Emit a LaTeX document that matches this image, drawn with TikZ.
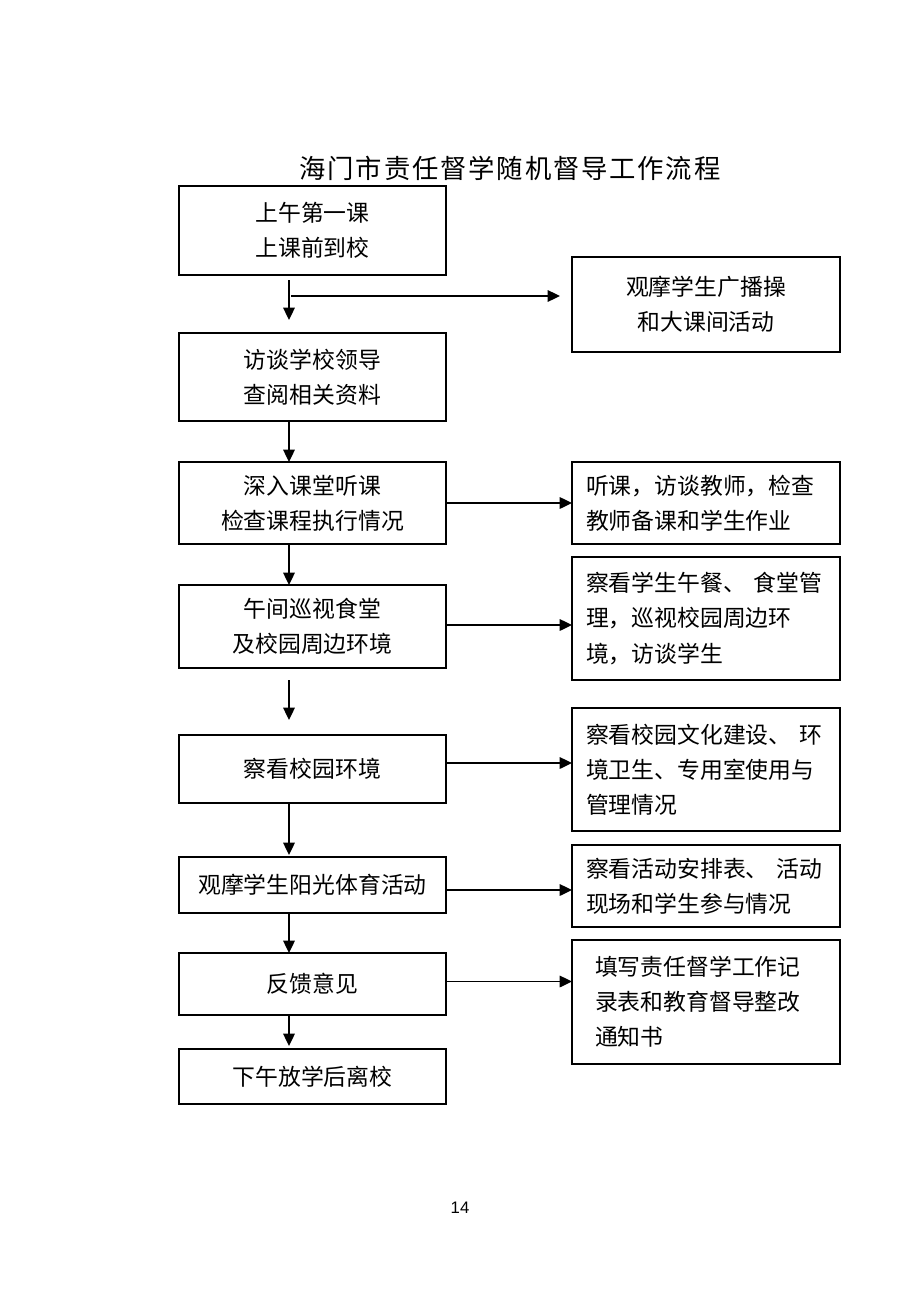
\documentclass[tikz,border=0pt]{standalone}
\usepackage{fontspec}
\usetikzlibrary{arrows.meta}
\newfontfamily\cjkfont{Noto Sans CJK SC}
\newfontfamily\ttlfont[LetterSpace=7]{Noto Sans CJK SC}
\setmainfont{Liberation Sans}
\tikzset{
  every node/.style={inner sep=0pt, outer sep=0pt},
  lbox/.style={draw, line width=0.9pt, minimum width=5.34cm, align=center,
    font=\cjkfont\fontsize{13}{20}\selectfont},
  rbox/.style={draw, line width=0.9pt, minimum width=5.36cm, align=left,
    text width=4.8cm, font=\cjkfont\fontsize{13}{20}\selectfont},
  arr/.style={line width=1.1pt, -{Triangle[length=7pt,width=6.5pt]}},
}
\begin{document}
\begin{tikzpicture}[x=0.02cm,y=-0.02cm]
\useasboundingbox (0,0) rectangle (920,1301);
% title
\node (title) at (510,168) {\ttlfont\fontsize{15}{18}\selectfont 海门市责任督学随机督导工作流程};
% left column
\node[lbox, minimum height=1.78cm] (b1) at (312.5,230.5) {上午第一课\\上课前到校};
\node[lbox, minimum height=1.76cm] (b2) at (312.5,377) {访谈学校领导\\查阅相关资料};
\node[lbox, minimum height=1.64cm] (b3) at (312.5,503) {深入课堂听课\\检查课程执行情况};
\node[lbox, minimum height=1.66cm] (b4) at (312.5,626.5) {午间巡视食堂\\及校园周边环境};
\node[lbox, minimum height=1.36cm] (b5) at (312.5,769) {察看校园环境};
\node[lbox, minimum height=1.12cm] (b6) at (312.5,885) {观摩学生阳光体育活动};
\node[lbox, minimum height=1.24cm] (b7) at (312.5,984) {反馈意见};
\node[lbox, minimum height=1.10cm] (b8) at (312.5,1076.5) {下午放学后离校};
% right column
\node[rbox, minimum height=1.90cm, align=center] (r1) at (706,304.5) {观摩学生广播操\\和大课间活动};
\node[rbox, minimum height=1.64cm] (r2) at (706,503) {听课，访谈教师，检查\\教师备课和学生作业};
\node[rbox, minimum height=2.46cm] (r3) at (706,618.5) {察看学生午餐、~食堂管\\理，巡视校园周边环\\境，访谈学生};
\node[rbox, minimum height=2.46cm] (r4) at (706,769.5) {察看校园文化建设、~环\\境卫生、专用室使用与\\管理情况};
\node[rbox, minimum height=1.64cm] (r5) at (706,886) {察看活动安排表、~活动\\现场和学生参与情况};
\node[rbox, minimum height=2.48cm, text width=4.44cm] (r6) at (706,1002) {填写责任督学工作记\\录表和教育督导整改\\通知书};
% page number
\node (pg) at (460,1208) {\fontsize{9.5}{11}\selectfont 14};
% helper coordinates
\coordinate (a1s) at (289,280);
\coordinate (a1e) at (289,320);
\coordinate (br) at (291,296);
\coordinate (bre) at (560,296);
\coordinate (a4s) at (289,680);
\coordinate (a4e) at (289,720);
\coordinate (ax) at (289,0);
% vertical arrows
\draw[arr] (a1s) -- (a1e);
\draw[arr] (br) -- (bre);
\draw[arr] (b2.south -| ax) -- (b3.north -| ax);
\draw[arr] (b3.south -| ax) -- (b4.north -| ax);
\draw[arr] (a4s) -- (a4e);
\draw[arr] (b5.south -| ax) -- ([yshift=0.04cm]b6.north -| ax);
\draw[arr] (b6.south -| ax) -- (b7.north -| ax);
\draw[arr] (b7.south -| ax) -- ([yshift=0.06cm]b8.north -| ax);
% horizontal arrows
\draw[arr] (b3.east) -- (b3.east -| r2.west);
\draw[arr] ([yshift=0.03cm]b4.east) -- ([yshift=0.03cm]b4.east -| r3.west);
\draw[arr] ([yshift=0.12cm]b5.east) -- ([yshift=0.12cm]b5.east -| r4.west);
\draw[arr] ([yshift=-0.1cm]b6.east) -- ([yshift=-0.1cm]b6.east -| r5.west);
\draw[arr] ([yshift=0.05cm]b7.east) -- ([yshift=0.05cm]b7.east -| r6.west);
\end{tikzpicture}
\end{document}
